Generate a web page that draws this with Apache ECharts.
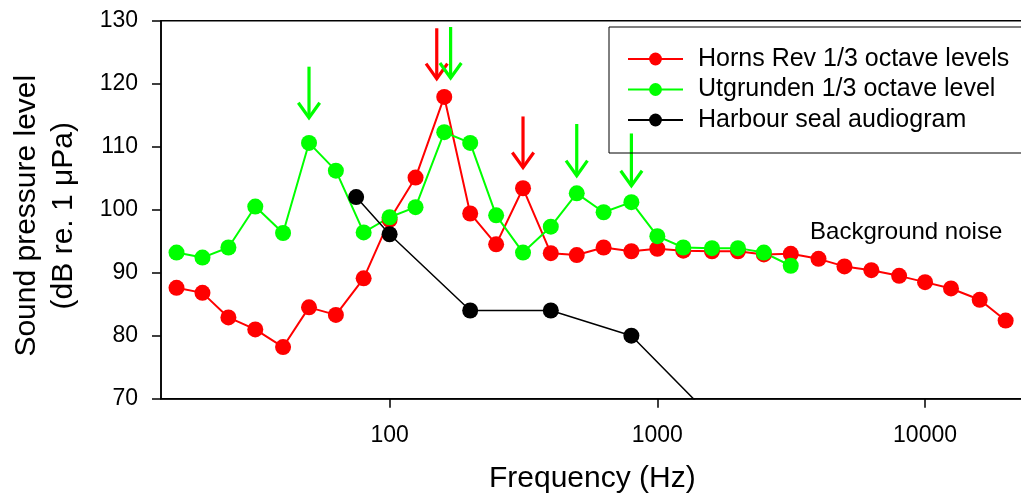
<!DOCTYPE html>
<html>
<head>
<meta charset="utf-8">
<script src="https://cdn.jsdelivr.net/npm/echarts@6/dist/echarts.min.js"></script>
<style>
  html, body { margin: 0; padding: 0; background: #fff; }
  #chart { width: 1021px; height: 495px; }
</style>
</head>
<body>
<div id="chart"></div>
<script>
// 1/3-octave centre frequencies (Hz)
const freqHornsRev = [16, 20, 25, 31.5, 40, 50, 63, 80, 100, 125, 160, 200, 250, 315, 400, 500, 630, 800,
  1000, 1250, 1600, 2000, 2500, 3150, 4000, 5000, 6300, 8000, 10000, 12500, 16000, 20000];
const levelHornsRev = [87.6, 86.8, 82.9, 81.0, 78.2, 84.5, 83.3, 89.1, 98.4, 105.1, 117.9, 99.4, 94.5, 103.4, 93.1, 92.8, 94.0, 93.4,
  93.8, 93.5, 93.4, 93.4, 92.9, 93.0, 92.2, 91.0, 90.4, 89.5, 88.5, 87.5, 85.7, 82.4];

const freqUtgrunden = [16, 20, 25, 31.5, 40, 50, 63, 80, 100, 125, 160, 200, 250, 315, 400, 500, 630, 800,
  1000, 1250, 1600, 2000, 2500, 3150];
const levelUtgrunden = [93.2, 92.4, 94.0, 100.5, 96.3, 110.6, 106.2, 96.4, 98.8, 100.4, 112.3, 110.6, 99.1, 93.2, 97.3, 102.6, 99.6, 101.2,
  95.8, 94.0, 93.9, 93.9, 93.2, 91.1];

// Harbour seal hearing thresholds
const freqSeal = [75, 100, 200, 400, 800, 1600];
const levelSeal = [102.0, 96.1, 84.0, 84.0, 80.0, 67.0];

// Peak markers: frequency, arrow tail level, arrow tip level, colour
const arrowFreq  = [150, 315, 50, 169, 500, 800];
const arrowTop   = [128.8, 114.8, 122.7, 129.0, 113.6, 112.1];
const arrowTip   = [120.8, 106.7, 114.6, 120.9, 105.4, 103.8];
const arrowColor = ['#ff0000', '#ff0000', '#00ff00', '#00ff00', '#00ff00', '#00ff00'];

// Annotation
const noteText = 'Background noise';
const noteFreq = 8500;
const noteLevel = 96.4;

// Axis settings
const xMin = 14, xMax = 25000;
const xTickValues = [100, 1000, 10000];
const yMin = 70, yMax = 130, yStep = 10;

const seriesNames = ['Horns Rev 1/3 octave levels', 'Utgrunden 1/3 octave level', 'Harbour seal audiogram'];
const FONT = "'Liberation Sans', Arial, Helvetica, sans-serif";

const zip = (xs, ys) => xs.map((x, i) => [x, ys[i]]);

const chart = echarts.init(document.getElementById('chart'), null, { renderer: 'canvas' });

function lineSeries(name, color, data, width) {
  return {
    name: name,
    type: 'line',
    data: data,
    symbol: 'circle',
    symbolSize: 16,
    showSymbol: true,
    clip: true,
    lineStyle: { color: color, width: width },
    itemStyle: { color: color },
    emphasis: { disabled: true }
  };
}

chart.setOption({
  animation: false,
  backgroundColor: '#fff',
  grid: {
    left: 161, right: -10.6, top: 20.7, bottom: 96.3,
    containLabel: false,
    outerBoundsMode: 'none',
    show: true,
    borderColor: '#000',
    borderWidth: 1.5
  },
  legend: {
    data: seriesNames,
    orient: 'vertical',
    left: 609,
    top: 27,
    padding: [18, 20, 19, 18],
    itemWidth: 55,
    itemHeight: 16,
    itemGap: 2.5,
    borderColor: '#000',
    borderWidth: 1,
    selectedMode: false,
    textStyle: { fontSize: 25, fontFamily: FONT, color: '#000', lineHeight: 28, padding: [0, 0, 0, 10] }
  },
  xAxis: {
    type: 'log',
    logBase: 10,
    min: xMin,
    max: xMax,
    name: 'Frequency (Hz)',
    nameLocation: 'middle',
    nameGap: 65,
    nameTextStyle: { fontSize: 30, fontFamily: FONT, color: '#000', padding: [0, 8, 0, 0] },
    axisLine: { show: true, lineStyle: { color: '#000', width: 1.5 } },
    axisTick: { show: true, inside: false, length: 9, lineStyle: { color: '#000', width: 1.5 }, customValues: xTickValues },
    axisLabel: { fontSize: 23, fontFamily: FONT, color: '#000', margin: 25, customValues: xTickValues,
      formatter: v => String(Math.round(v)) },
    minorTick: { show: false },
    splitLine: { show: false }
  },
  yAxis: {
    type: 'value',
    min: yMin,
    max: yMax,
    interval: yStep,
    name: 'Sound pressure level\n(dB re. 1 \u03bcPa)',
    nameLocation: 'middle',
    nameGap: 79,
    nameTextStyle: { fontSize: 30, fontFamily: FONT, color: '#000', lineHeight: 37, padding: [0, 12, 0, 0] },
    axisLine: { show: true, lineStyle: { color: '#000', width: 1.5 } },
    axisTick: { show: true, inside: false, length: 9, lineStyle: { color: '#000', width: 1.5 } },
    axisLabel: { fontSize: 23, fontFamily: FONT, color: '#000', margin: 23 },
    splitLine: { show: false }
  },
  series: [
    lineSeries(seriesNames[0], '#ff0000', zip(freqHornsRev, levelHornsRev), 2),
    lineSeries(seriesNames[1], '#00ff00', zip(freqUtgrunden, levelUtgrunden), 2),
    lineSeries(seriesNames[2], '#000000', zip(freqSeal, levelSeal), 1.5),
    {
      name: 'peaks',
      type: 'custom',
      clip: false,
      silent: true,
      encode: { x: 0, y: [1, 2] },
      data: arrowFreq.map((f, i) => ({ value: [f, arrowTop[i], arrowTip[i]], itemStyle: { color: arrowColor[i] } })),
      renderItem: function (params, api) {
        const tail = api.coord([api.value(0), api.value(1)]);
        const tip = api.coord([api.value(0), api.value(2)]);
        const color = api.visual('color');
        const headW = 10.7, headH = 15;
        const style = { stroke: color, lineWidth: 3.2, fill: null, lineCap: 'butt', lineJoin: 'miter' };
        return {
          type: 'group',
          children: [
            { type: 'polyline', shape: { points: [tail, tip] }, style: style },
            { type: 'polyline', shape: { points: [[tip[0] - headW, tip[1] - headH], tip, [tip[0] + headW, tip[1] - headH]] }, style: style }
          ]
        };
      }
    },
    {
      name: 'note',
      type: 'custom',
      clip: false,
      silent: true,
      data: [[noteFreq, noteLevel]],
      renderItem: function (params, api) {
        const p = api.coord([api.value(0), api.value(1)]);
        return {
          type: 'text',
          x: p[0],
          y: p[1],
          style: { text: noteText, fontSize: 24, fontFamily: FONT, fill: '#000', align: 'center', verticalAlign: 'middle' }
        };
      }
    }
  ]
});
</script>
</body>
</html>
